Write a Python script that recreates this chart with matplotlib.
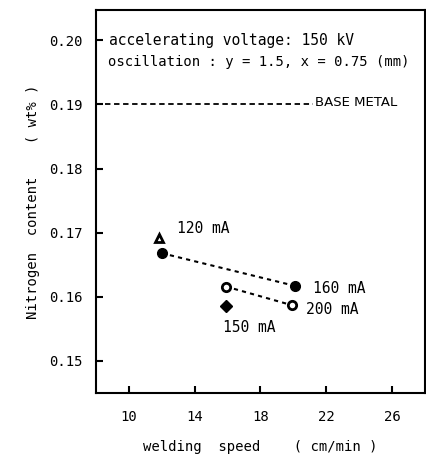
import matplotlib
matplotlib.use("Agg")
import matplotlib.pyplot as plt

# data
s160_x = [12.0, 20.1]
s160_y = [0.1668, 0.1617]
s200_x = [15.9, 19.9]
s200_y = [0.1616, 0.1587]
s120_x = [11.8]
s120_y = [0.1691]
s150_x = [15.9]
s150_y = [0.1586]
base_metal = 0.190
xticks = [10, 14, 18, 22, 26]
yticks = [0.15, 0.16, 0.17, 0.18, 0.19, 0.20]

plt.rcParams['font.family'] = ['DejaVu Sans Mono']
fig = plt.figure(figsize=(4.26, 4.57), dpi=100)
ax = fig.add_axes([0.2254, 0.140, 0.772, 0.838])
ax.set_xlim(8, 28)
ax.set_ylim(0.145, 0.2047)

ax.plot(s160_x, s160_y, linestyle=(0, (2, 2)), color='black', lw=1.5,
        marker='o', markersize=7, markerfacecolor='black')
ax.plot(s200_x, s200_y, linestyle=(0, (2, 2)), color='black', lw=1.5,
        marker='o', markersize=6, markerfacecolor='white', markeredgewidth=2)
ax.plot(s120_x, s120_y, linestyle='none', marker='^', markersize=6,
        markerfacecolor='white', markeredgecolor='black', markeredgewidth=2)
ax.plot(s150_x, s150_y, linestyle='none', marker='D', markersize=6,
        color='black')

ax.plot([8, 21.2], [base_metal, base_metal], linestyle=(0, (3, 2)), color='black', lw=1.3)
ax.text(21.3, base_metal + 0.0003, 'BASE METAL', fontsize=9.5, va='center', ha='left',
        family=['Liberation Sans Narrow', 'DejaVu Sans'])

ax.text(8.8, 0.2000, 'accelerating voltage: 150 kV', fontsize=10.5, va='center')
ax.text(8.7, 0.1966, 'oscillation : y = 1.5, x = 0.75 (mm)', fontsize=10.0, va='center')

ax.text(12.9, 0.1707, '120 mA', fontsize=10.5, va='center')
ax.text(21.2, 0.1613, '160 mA', fontsize=10.5, va='center')
ax.text(20.8, 0.1580, '200 mA', fontsize=10.5, va='center')
ax.text(17.3, 0.1552, '150 mA', fontsize=10.5, va='center', ha='center')

ax.set_xticks(xticks)
ax.set_xticklabels([str(v) for v in xticks], fontsize=10)
ax.set_yticks(yticks)
ax.set_yticklabels(['%.2f' % v for v in yticks], fontsize=10)
ax.tick_params(direction='in', length=5, width=1.5, pad=12)
ax.tick_params(axis='y', pad=10)
for sp in ax.spines.values():
    sp.set_linewidth(1.5)

ax.set_xlabel('welding  speed    ( cm/min )', fontsize=10, labelpad=12)
ax.set_ylabel('Nitrogen  content    ( wt% )', fontsize=10, labelpad=6)

fig.savefig('out.png', dpi=100)
